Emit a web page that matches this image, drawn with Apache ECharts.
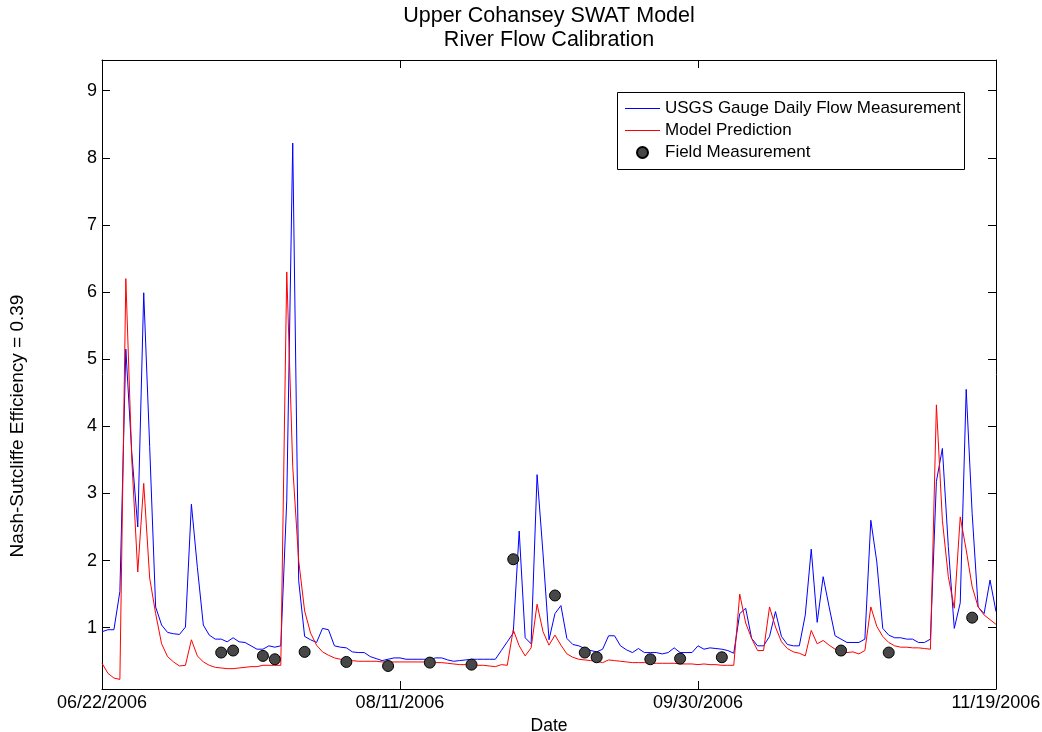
<!DOCTYPE html>
<html><head><meta charset="utf-8">
<script src="https://cdn.jsdelivr.net/npm/echarts@6/dist/echarts.min.js"></script>
<style>html,body{margin:0;padding:0;background:#fff}#c{width:1042px;height:732px}</style>
</head><body><div id="c"></div>
<script>
// Day offsets from 06/22/2006
const tickDays = [0, 50, 100, 150];
const tickLabels = ['06/22/2006', '08/11/2006', '09/30/2006', '11/19/2006'];
const yTicks = [1, 2, 3, 4, 5, 6, 7, 8, 9];

// USGS gauge daily flow (day 0..150)
const usgsFlow = [
  0.94, 0.97, 0.97, 1.54, 5.15, 3.6, 2.5, 5.99, 3.7, 1.31,
  1.04, 0.93, 0.91, 0.90, 1.01, 2.84, 1.9, 1.04, 0.89, 0.83,
  0.83, 0.79, 0.85, 0.79, 0.78, 0.73, 0.68, 0.68, 0.73, 0.71,
  0.73, 2.9, 8.22, 1.7, 0.87, 0.82, 0.78, 0.99, 0.97, 0.73,
  0.71, 0.70, 0.64, 0.63, 0.63, 0.57, 0.54, 0.51, 0.53, 0.55,
  0.55, 0.53, 0.53, 0.53, 0.53, 0.53, 0.55, 0.55, 0.52, 0.50,
  0.51, 0.52, 0.53, 0.53, 0.53, 0.53, 0.53, 0.66, 0.79, 0.92,
  2.44, 0.85, 0.76, 3.28, 2.1, 0.82, 1.21, 1.33, 0.84, 0.75,
  0.73, 0.69, 0.66, 0.64, 0.68, 0.88, 0.88, 0.73, 0.67, 0.63,
  0.69, 0.63, 0.63, 0.63, 0.61, 0.63, 0.70, 0.63, 0.63, 0.63,
  0.73, 0.68, 0.70, 0.69, 0.68, 0.66, 0.62, 1.21, 1.29, 0.84,
  0.73, 0.73, 0.87, 1.24, 0.87, 0.75, 0.73, 0.73, 1.19, 2.17,
  1.08, 1.76, 1.31, 0.88, 0.83, 0.78, 0.78, 0.78, 0.83, 2.6,
  1.98, 0.99, 0.89, 0.85, 0.85, 0.83, 0.83, 0.78, 0.78, 0.83,
  3.18, 3.67, 2.21, 0.99, 1.37, 4.55, 2.70, 1.31, 1.21, 1.71,
  1.24
];

// Model prediction (day 0..150)
const modelFlow = [
  0.47, 0.32, 0.25, 0.23, 6.2, 3.5, 1.83, 3.15, 1.74, 1.21,
  0.76, 0.57, 0.49, 0.43, 0.44, 0.82, 0.58, 0.49, 0.44, 0.41,
  0.40, 0.39, 0.39, 0.40, 0.41, 0.42, 0.42, 0.44, 0.44, 0.44,
  0.44, 6.3, 3.4, 2.0, 1.25, 0.92, 0.74, 0.64, 0.59, 0.55,
  0.53, 0.52, 0.51, 0.50, 0.50, 0.50, 0.50, 0.49, 0.49, 0.49,
  0.49, 0.49, 0.49, 0.49, 0.49, 0.48, 0.48, 0.48, 0.47, 0.46,
  0.45, 0.45, 0.45, 0.44, 0.44, 0.43, 0.42, 0.45, 0.44, 0.97,
  0.73, 0.58, 0.70, 1.35, 0.94, 0.74, 0.89, 0.74, 0.61, 0.56,
  0.53, 0.52, 0.51, 0.50, 0.48, 0.52, 0.51, 0.50, 0.49, 0.48,
  0.48, 0.48, 0.47, 0.47, 0.47, 0.47, 0.47, 0.46, 0.46, 0.46,
  0.45, 0.46, 0.45, 0.45, 0.44, 0.44, 0.44, 1.50, 1.07, 0.84,
  0.66, 0.66, 1.31, 1.01, 0.79, 0.69, 0.64, 0.62, 0.58, 0.96,
  0.76, 0.81, 0.74, 0.68, 0.64, 0.63, 0.64, 0.61, 0.66, 1.31,
  1.02, 0.87, 0.78, 0.73, 0.71, 0.71, 0.70, 0.70, 0.69, 0.68,
  4.32, 2.6, 1.76, 1.29, 2.65, 2.16, 1.61, 1.31, 1.19, 1.12,
  1.05
];

// Field measurements
const fieldDays = [20, 22, 27, 29, 34, 41, 48, 55, 62, 69, 76, 81, 83, 92, 97, 104, 124, 132, 146];
const fieldFlow = [0.63, 0.66, 0.58, 0.53, 0.64, 0.49, 0.43, 0.48, 0.45, 2.02, 1.48, 0.63, 0.56, 0.53, 0.54, 0.56, 0.66, 0.63, 1.15];

const FONT = 'Liberation Sans, Arial, Helvetica, sans-serif';
const chart = echarts.init(document.getElementById('c'), null, {renderer: 'canvas'});

const usgsData = usgsFlow.map((v, i) => [i, v]);
const modelData = modelFlow.map((v, i) => [i, v]);
const fieldData = fieldDays.map((d, i) => [d, fieldFlow[i]]);

const yMin = 0.087, yMax = 9.457;
const axisLineStyle = {color: '#000', width: 1};
const lineIcon = 'path://M0,0L35,0L35,1.2L0,1.2Z';

chart.setOption({
  animation: false,
  backgroundColor: '#fff',
  grid: {left: 102, right: 46, top: 60, bottom: 43, containLabel: false, outerBoundsMode: 'none'},
  graphic: [
    {type: 'text', x: 549, y: 16, style: {text: 'Upper Cohansey SWAT Model', font: '21.5px ' + FONT, fill: '#000', textAlign: 'center', textVerticalAlign: 'middle'}},
    {type: 'text', x: 549, y: 40, style: {text: 'River Flow Calibration', font: '21.5px ' + FONT, fill: '#000', textAlign: 'center', textVerticalAlign: 'middle'}},
    {type: 'text', x: 18, y: 426, rotation: Math.PI / 2, style: {text: 'Nash-Sutcliffe Efficiency = 0.39', font: '19px ' + FONT, fill: '#000', textAlign: 'center', textVerticalAlign: 'middle'}},
    {type: 'rect', shape: {x: 617.5, y: 92.5, width: 347, height: 77}, style: {fill: 'none', stroke: '#000', lineWidth: 1}, z: 10}
  ],
  legend: {
    orient: 'vertical',
    left: 625, top: 100, padding: 0,
    itemWidth: 35, itemHeight: 11, itemGap: 5,
    symbolKeepAspect: true,
    textStyle: {fontFamily: FONT, fontSize: 17, color: '#000'},
    data: [
      {name: 'USGS Gauge Daily Flow Measurement', icon: lineIcon},
      {name: 'Model Prediction', icon: lineIcon},
      {name: 'Field Measurement', icon: 'circle'}
    ]
  },
  xAxis: [
    {
      type: 'value', min: 0, max: 150, interval: 50, position: 'bottom',
      name: 'Date', nameLocation: 'middle', nameGap: 20,
      nameTextStyle: {fontFamily: FONT, fontSize: 17.5, color: '#000'},
      axisLine: {show: true, lineStyle: axisLineStyle},
      axisTick: {show: true, inside: true, length: 8, lineStyle: axisLineStyle},
      axisLabel: {fontFamily: FONT, fontSize: 18, color: '#000', margin: 5,
        formatter: v => { const k = tickDays.indexOf(v); return k >= 0 ? tickLabels[k] : ''; }},
      splitLine: {show: false}
    },
    {
      type: 'value', min: 0, max: 150, interval: 50, position: 'top',
      axisLine: {show: true, onZero: false, lineStyle: axisLineStyle},
      axisTick: {show: true, inside: true, length: 8, lineStyle: axisLineStyle},
      axisLabel: {show: false}, splitLine: {show: false}
    }
  ],
  yAxis: [
    {
      type: 'value', min: yMin, max: yMax, position: 'left',
      axisLine: {show: true, onZero: false, lineStyle: axisLineStyle},
      axisTick: {show: true, inside: true, length: 8, lineStyle: axisLineStyle, customValues: yTicks},
      axisLabel: {fontFamily: FONT, fontSize: 18, color: '#000', margin: 5, customValues: yTicks},
      splitLine: {show: false}
    },
    {
      type: 'value', min: yMin, max: yMax, position: 'right',
      axisLine: {show: true, onZero: false, lineStyle: axisLineStyle},
      axisTick: {show: true, inside: true, length: 8, lineStyle: axisLineStyle, customValues: yTicks},
      axisLabel: {show: false, customValues: yTicks}, splitLine: {show: false}
    }
  ],
  series: [
    {
      name: 'USGS Gauge Daily Flow Measurement', type: 'line', data: usgsData,
      symbol: 'none', lineStyle: {color: '#0000ff', width: 1}, itemStyle: {color: '#0000ff'}, z: 3
    },
    {
      name: 'Model Prediction', type: 'line', data: modelData,
      symbol: 'none', lineStyle: {color: '#ff0000', width: 1}, itemStyle: {color: '#ff0000'}, z: 4
    },
    {
      name: 'Field Measurement', type: 'scatter', data: fieldData, symbol: 'circle', symbolSize: 11,
      itemStyle: {color: '#474747', borderColor: '#000', borderWidth: 1, opacity: 1}, z: 5
    }
  ]
});
</script></body></html>
